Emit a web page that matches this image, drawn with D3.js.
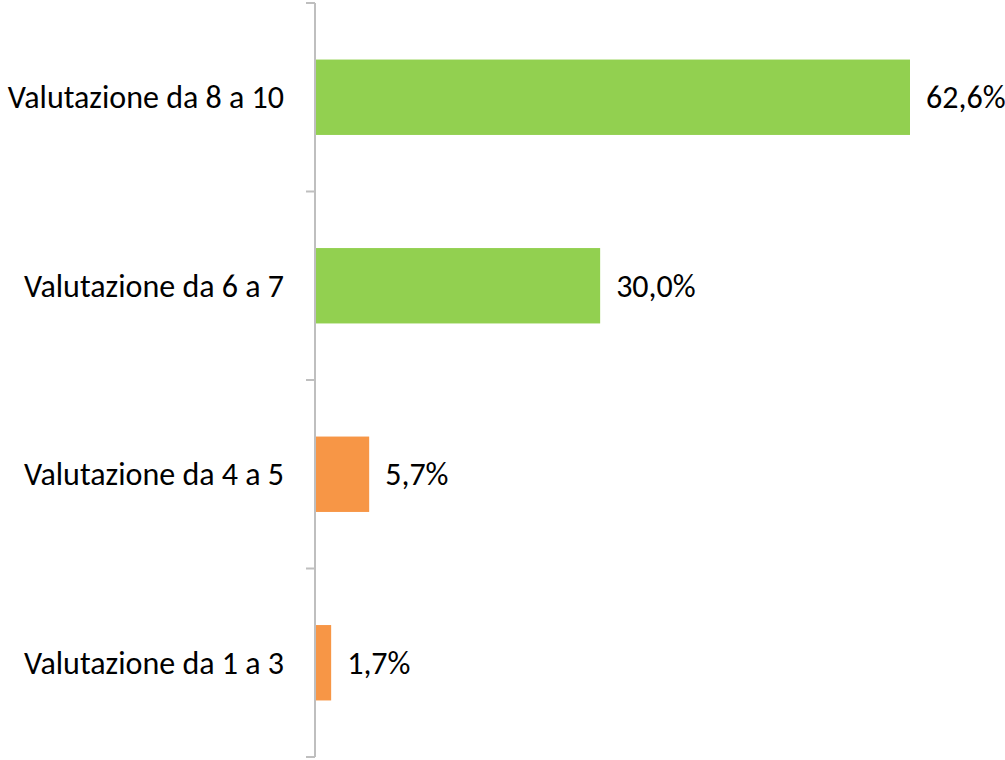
<!DOCTYPE html>
<html><head><meta charset="utf-8">
<script src="https://cdn.jsdelivr.net/npm/d3@7"></script>
<style>body{margin:0;background:#fff}svg text{font-family:Carlito,Calibri,"Liberation Sans",sans-serif}</style>
</head><body>
<svg id="c" width="1005" height="760"></svg>
<script>
const categories = ["Valutazione da 8 a 10","Valutazione da 6 a 7","Valutazione da 4 a 5","Valutazione da 1 a 3"];
const values = [62.6, 30.0, 5.7, 1.7];
const colors = ["#92D050","#92D050","#F79646","#F79646"];
const labels = ["62,6%","30,0%","5,7%","1,7%"];

const svg = d3.select("#c");
const x0 = 315, yTop = 3, yBottom = 757;
const x = d3.scaleLinear().domain([0, 62.6]).range([x0, 910]);
const y = d3.scaleBand().domain(categories).range([yTop, yBottom]).paddingInner(0.6).paddingOuter(0.3);

const g = svg.append("g").attr("transform",`translate(${x0},0)`);
g.append("line").attr("x1",0).attr("x2",0).attr("y1",yTop).attr("y2",yBottom).attr("stroke","#BFBFBF").attr("stroke-width",2);
const tickYs = [yTop].concat(categories.map((c,i)=> yTop + (i+1)*(yBottom-yTop)/categories.length));
g.selectAll("line.t").data(tickYs).join("line").attr("class","t")
 .attr("x1",-9).attr("x2",0).attr("y1",d=>d).attr("y2",d=>d).attr("stroke","#BFBFBF").attr("stroke-width",2);

svg.selectAll("rect.bar").data(values).join("rect").attr("class","bar")
 .attr("x", x0+1).attr("y",(d,i)=>y(categories[i]))
 .attr("width", d=>x(d)-x0-1).attr("height", y.bandwidth())
 .attr("fill",(d,i)=>colors[i]);

svg.selectAll("text.cat").data(categories).join("text").attr("class","cat")
 .attr("x",284).attr("y",d=>y(d)+y.bandwidth()/2).attr("dy","0.35em")
 .attr("text-anchor","end").attr("font-size",32).attr("fill","#000").text(d=>d);

svg.selectAll("text.val").data(values).join("text").attr("class","val")
 .attr("x",d=>x(d)+16).attr("y",(d,i)=>y(categories[i])+y.bandwidth()/2).attr("dy","0.35em")
 .attr("font-size",32).attr("fill","#000").text((d,i)=>labels[i]);
</script>
</body></html>
